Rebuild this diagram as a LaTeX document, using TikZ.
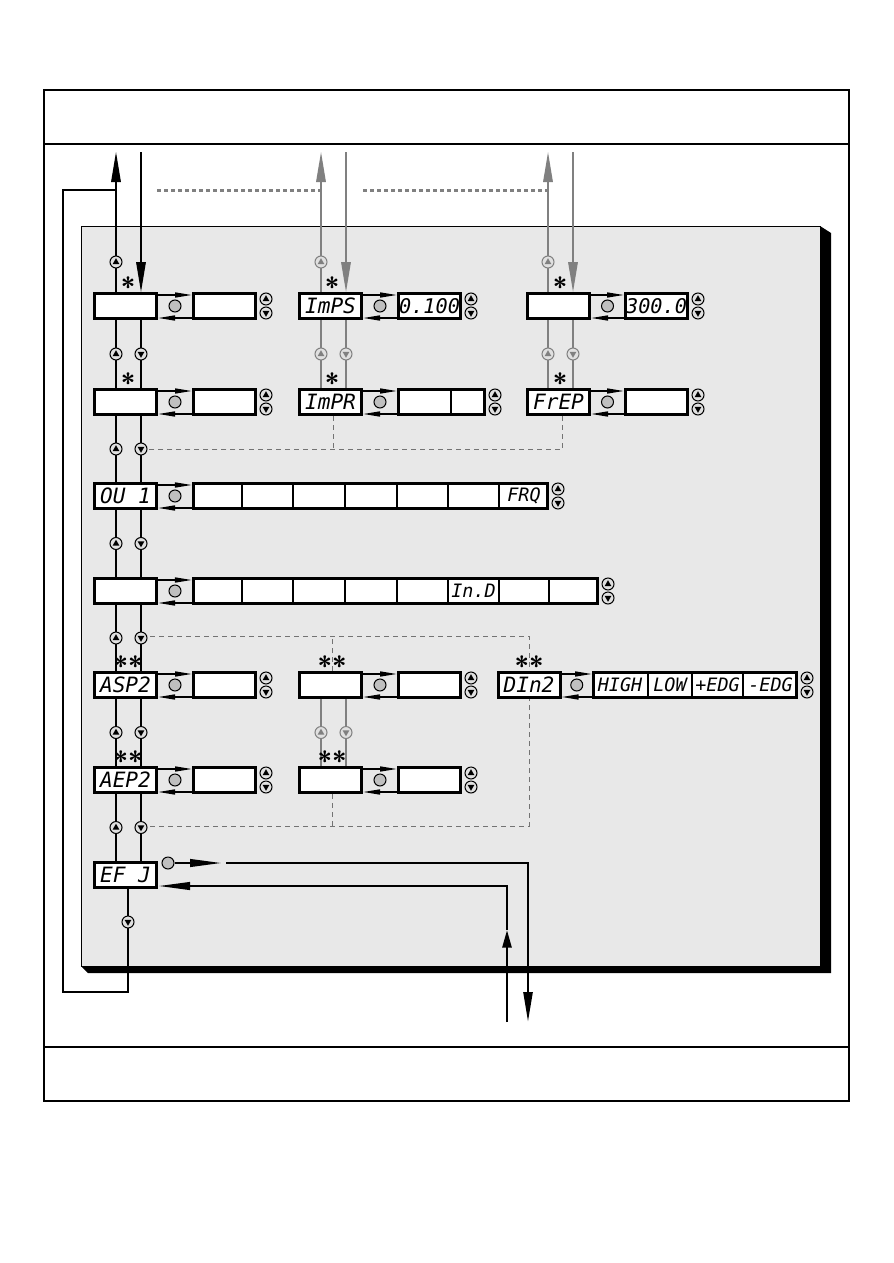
\documentclass[tikz,border=0pt]{standalone}
\usepackage{fontspec}
\newfontfamily\segfont{DejaVu Sans Mono}
\usetikzlibrary{arrows.meta,calc}
\definecolor{panelgray}{gray}{0.91}
\definecolor{linegray}{gray}{0.5}

\begin{document}
\begin{tikzpicture}[
  x=0.2mm, y=-0.2mm,
  menu/.style={draw, line width=0.6mm, fill=white, minimum width=12.4mm,
    minimum height=5mm, inner sep=0pt,
    font=\segfont\itshape\fontsize{12}{12}\selectfont},
  valbox/.style={menu},
  enter/.style={circle, draw, line width=0.2mm, fill=black!25,
    minimum size=2.4mm, inner sep=0pt},
  star/.style={inner sep=0pt, font=\sffamily\bfseries\fontsize{15}{15}\selectfont},
  flow/.style={line width=0.3mm, -{Stealth[length=3.4mm,width=1mm,inset=0pt]}},
  vline/.style={line width=0.3mm},
  bigarrow/.style={vline, -{Stealth[length=6mm,width=1.9mm,inset=0pt]}},
  efline/.style={line width=0.5mm},
  link/.style={draw=black!55, line width=0.2mm, dash pattern=on 1mm off 0.8mm},
  hint/.style={draw=linegray, line width=0.6mm, dash pattern=on 0.8mm off 0.6mm},
  upbtn/.pic={
    \draw[line width=0.2mm, fill=black!12] (0,0) circle (6);
    \fill (0,-3.8) -- (-3.4,2.2) -- (3.4,2.2) -- cycle;},
  dnbtn/.pic={
    \draw[line width=0.2mm, fill=black!12] (0,0) circle (6);
    \fill (0,3.8) -- (-3.4,-2.2) -- (3.4,-2.2) -- cycle;}
]
  \useasboundingbox (0,0) rectangle (893,1263);

  % Outer frame with header and footer rows
  \draw[line width=0.5mm] (44,90) rectangle (849,1101);
  \draw[line width=0.4mm] (44,144) -- (849,144);
  \draw[line width=0.4mm] (44,1047) -- (849,1047);

  % Grey panel with its shadow
  \fill[black] (820,226) -- (831,233) -- (831,973) -- (88,973)
    -- (81,966) -- (820,966) -- cycle;
  \draw[fill=panelgray, line width=0.2mm] (81,226) rectangle (820,966);

  % Left column of menu items
  \node[menu] (a1) at (125.5,306) {};
  \node[valbox] (v1) at (224.5,306) {};
  \node[menu] (a2) at (125.5,402) {};
  \node[valbox] (v2) at (224.5,402) {};
  \node[menu] (a3) at (125.5,496) {OU 1};
  \node[valbox, minimum width=70.8mm] (v3) at (370.5,496) {};
  \node[menu] (a4) at (125.5,591) {};
  \node[valbox, minimum width=80.8mm] (v4) at (395.5,591) {};
  \node[menu] (a5) at (125.5,685) {ASP2};
  \node[valbox] (v5) at (224.5,685) {};
  \node[menu] (a6) at (125.5,780) {AEP2};
  \node[valbox] (v6) at (224.5,780) {};
  \node[menu] (a7) at (125.5,875) {EF J};

  % Middle column
  \node[menu] (b1) at (330.5,306) {ImPS};
  \node[valbox, font=\segfont\itshape\fontsize{11.5}{11.5}\selectfont] (bv1) at (429.5,306) {0.100};
  \node[menu] (b2) at (330.5,402) {ImPR};
  \node[valbox, minimum width=17.2mm] (bv2) at (441.5,402) {};
  \node[menu] (b5) at (330.5,685) {};
  \node[valbox] (bv5) at (429.5,685) {};
  \node[menu] (b6) at (330.5,780) {};
  \node[valbox] (bv6) at (429.5,780) {};

  % Right column
  \node[menu] (c1) at (558.5,306) {};
  \node[valbox, font=\segfont\itshape\fontsize{11.5}{11.5}\selectfont] (cv1) at (656.5,306) {300.0};
  \node[menu] (c2) at (558.5,402) {FrEP};
  \node[valbox] (cv2) at (656.5,402) {};
  \node[menu] (d5) at (529,685) {DIn2};
  \node[valbox, minimum width=40.6mm] (dv5) at (695,685) {};

  % Cell dividers and cell texts
  \draw[line width=0.3mm] (451,0 |- bv2.north) -- (451,0 |- bv2.south);
  \foreach \x in {242,293,345,397,448,499}
    \draw[line width=0.3mm] (\x,0 |- v3.north) -- (\x,0 |- v3.south);
  \foreach \x in {242,293,345,397,448,499,549}
    \draw[line width=0.3mm] (\x,0 |- v4.north) -- (\x,0 |- v4.south);
  \foreach \x in {648,692,743}
    \draw[line width=0.3mm] (\x,0 |- dv5.north) -- (\x,0 |- dv5.south);
  \begin{scope}[every node/.style={font=\segfont\itshape\fontsize{10.5}{10.5}\selectfont}]
    \node (frq) at (524,496) {FRQ};
    \node (ind) at (473.5,591) {In.D};
    \node (high) at (620,685) {HIGH};
    \node (low) at (670,685) {LOW};
    \node (pedg) at (717.5,685) {+EDG};
    \node (medg) at (770.5,685) {-EDG};
  \end{scope}

  % Enter key and the two arrows between each item and its value
  \foreach \m/\v in {a1/v1,a2/v2,a3/v3,a4/v4,a5/v5,a6/v6,b1/bv1,b2/bv2,
                     b5/bv5,b6/bv6,c1/cv1,c2/cv2,d5/dv5} {
    \draw[flow] ($(\m.east)+(0,-11)$) -- ($(\v.west)+(0,-11)$);
    \draw[flow] ($(\v.west)+(0,12)$) -- ($(\m.east)+(0,12)$);
    \node[enter] (e\m) at ($(\m.east)!0.5!(\v.west)$) {};
    \pic at ($(\v.east)+(9,-7)$) {upbtn};
    \pic at ($(\v.east)+(9,7)$) {dnbtn};
  }

  % Dashed links between the branches
  \coordinate (k2) at (141,449);
  \coordinate (k4) at (141,636);
  \coordinate (k6) at (141,826);
  \draw[link] ($(b2.south)+(3,0)$) -- ($(b2.south |- k2)+(3,0)$);
  \draw[link] ($(c2.south)+(4,0)$) -- ($(c2.south |- k2)+(4,0)$) -- (k2);
  \draw[link] (k4) -- (k4 -| d5.north) -- (d5.north);
  \draw[link] ($(b5.north)+(2,0)$) -- ($(b5.north |- k4)+(2,0)$);
  \draw[link] (k6) -- (k6 -| d5.south) -- (d5.south);
  \draw[link] ($(b6.south)+(2,0)$) -- ($(b6.south |- k6)+(2,0)$);

  % Top grey dashed hints
  \draw[hint] (157,190) -- (320,190);
  \draw[hint] (363,190) -- (547,190);

  % Vertical paths of the left column
  \coordinate (aU) at (116,152);
  \coordinate (aD) at (141,152);
  \draw[bigarrow] (a1.north -| aU) -- (aU);
  \draw[bigarrow] (aD) -- (a1.north -| aD);
  \pic at (116,262) {upbtn};
  \foreach \p/\q in {a1/a2,a2/a3,a3/a4,a4/a5,a5/a6,a6/a7} {
    \draw[vline] (\p.south -| aU) -- (\q.north -| aU);
    \draw[vline] (\p.south -| aD) -- (\q.north -| aD);
    \pic at ($(\p.south -| aU)!0.5!(\q.north -| aU)$) {upbtn};
    \pic at ($(\p.south -| aD)!0.5!(\q.north -| aD)$) {dnbtn};
  }

  % Return loop to the top
  \coordinate (ret) at (128,992);
  \draw[line width=0.4mm] (aU |- 0,190) -- (63,190) -- (63,992) -- (ret)
    -- (ret |- a7.south);
  \pic at (128,922) {dnbtn};

  % Grey paths of the middle and right columns
  \begin{scope}[linegray]
    \coordinate (bU) at (321,152);
    \coordinate (bD) at (346,152);
    \coordinate (cU) at (548,152);
    \coordinate (cD) at (573,152);
    \draw[bigarrow] (b1.north -| bU) -- (bU);
    \draw[bigarrow] (bD) -- (b1.north -| bD);
    \draw[bigarrow] (c1.north -| cU) -- (cU);
    \draw[bigarrow] (cD) -- (c1.north -| cD);
    \foreach \p/\q/\u/\d in {b1/b2/bU/bD,b5/b6/bU/bD,c1/c2/cU/cD} {
      \draw[vline] (\p.south -| \u) -- (\q.north -| \u);
      \draw[vline] (\p.south -| \d) -- (\q.north -| \d);
      \pic[linegray] at ($(\p.south -| \u)!0.5!(\q.north -| \u)$) {upbtn};
      \pic[linegray] at ($(\p.south -| \d)!0.5!(\q.north -| \d)$) {dnbtn};
    }
    \pic[linegray] at (321,262) {upbtn};
    \pic[linegray] at (548,262) {upbtn};
  \end{scope}

  % Exit from EF and way back in
  \node[enter] (ea7) at (168,863) {};
  \coordinate (o1) at (222,863);
  \coordinate (o2) at (226,863);
  \coordinate (o3) at (528,1022);
  \coordinate (i1) at (507,1022);
  \coordinate (i2) at (507,930);
  \draw[efline, -{Stealth[length=6.4mm,width=1.5mm,inset=0pt]}] (ea7) -- (o1);
  \draw[efline, -{Stealth[length=6mm,width=1.8mm,inset=0pt]}] (o2) -| (o3);
  \draw[efline, -{Stealth[length=3.5mm,width=1.8mm,inset=0pt]}] (i1) -- (i2);
  \draw[efline, -{Stealth[length=6.4mm,width=1.5mm,inset=0pt]}] (i2)
    |- ($(a7.east)+(0,11)$);

  % Stars
  \foreach \s/\x/\y in {*/128/282,*/128/378,*/332/282,*/332/378,*/560/282,
                        */560/378,**/128/661,**/128/756,**/332/661,
                        **/332/756,**/529/661}
    \node[star] at (\x,\y) {\raisebox{-0.33em}[0.42em][0pt]{\s}};
\end{tikzpicture}
\end{document}
